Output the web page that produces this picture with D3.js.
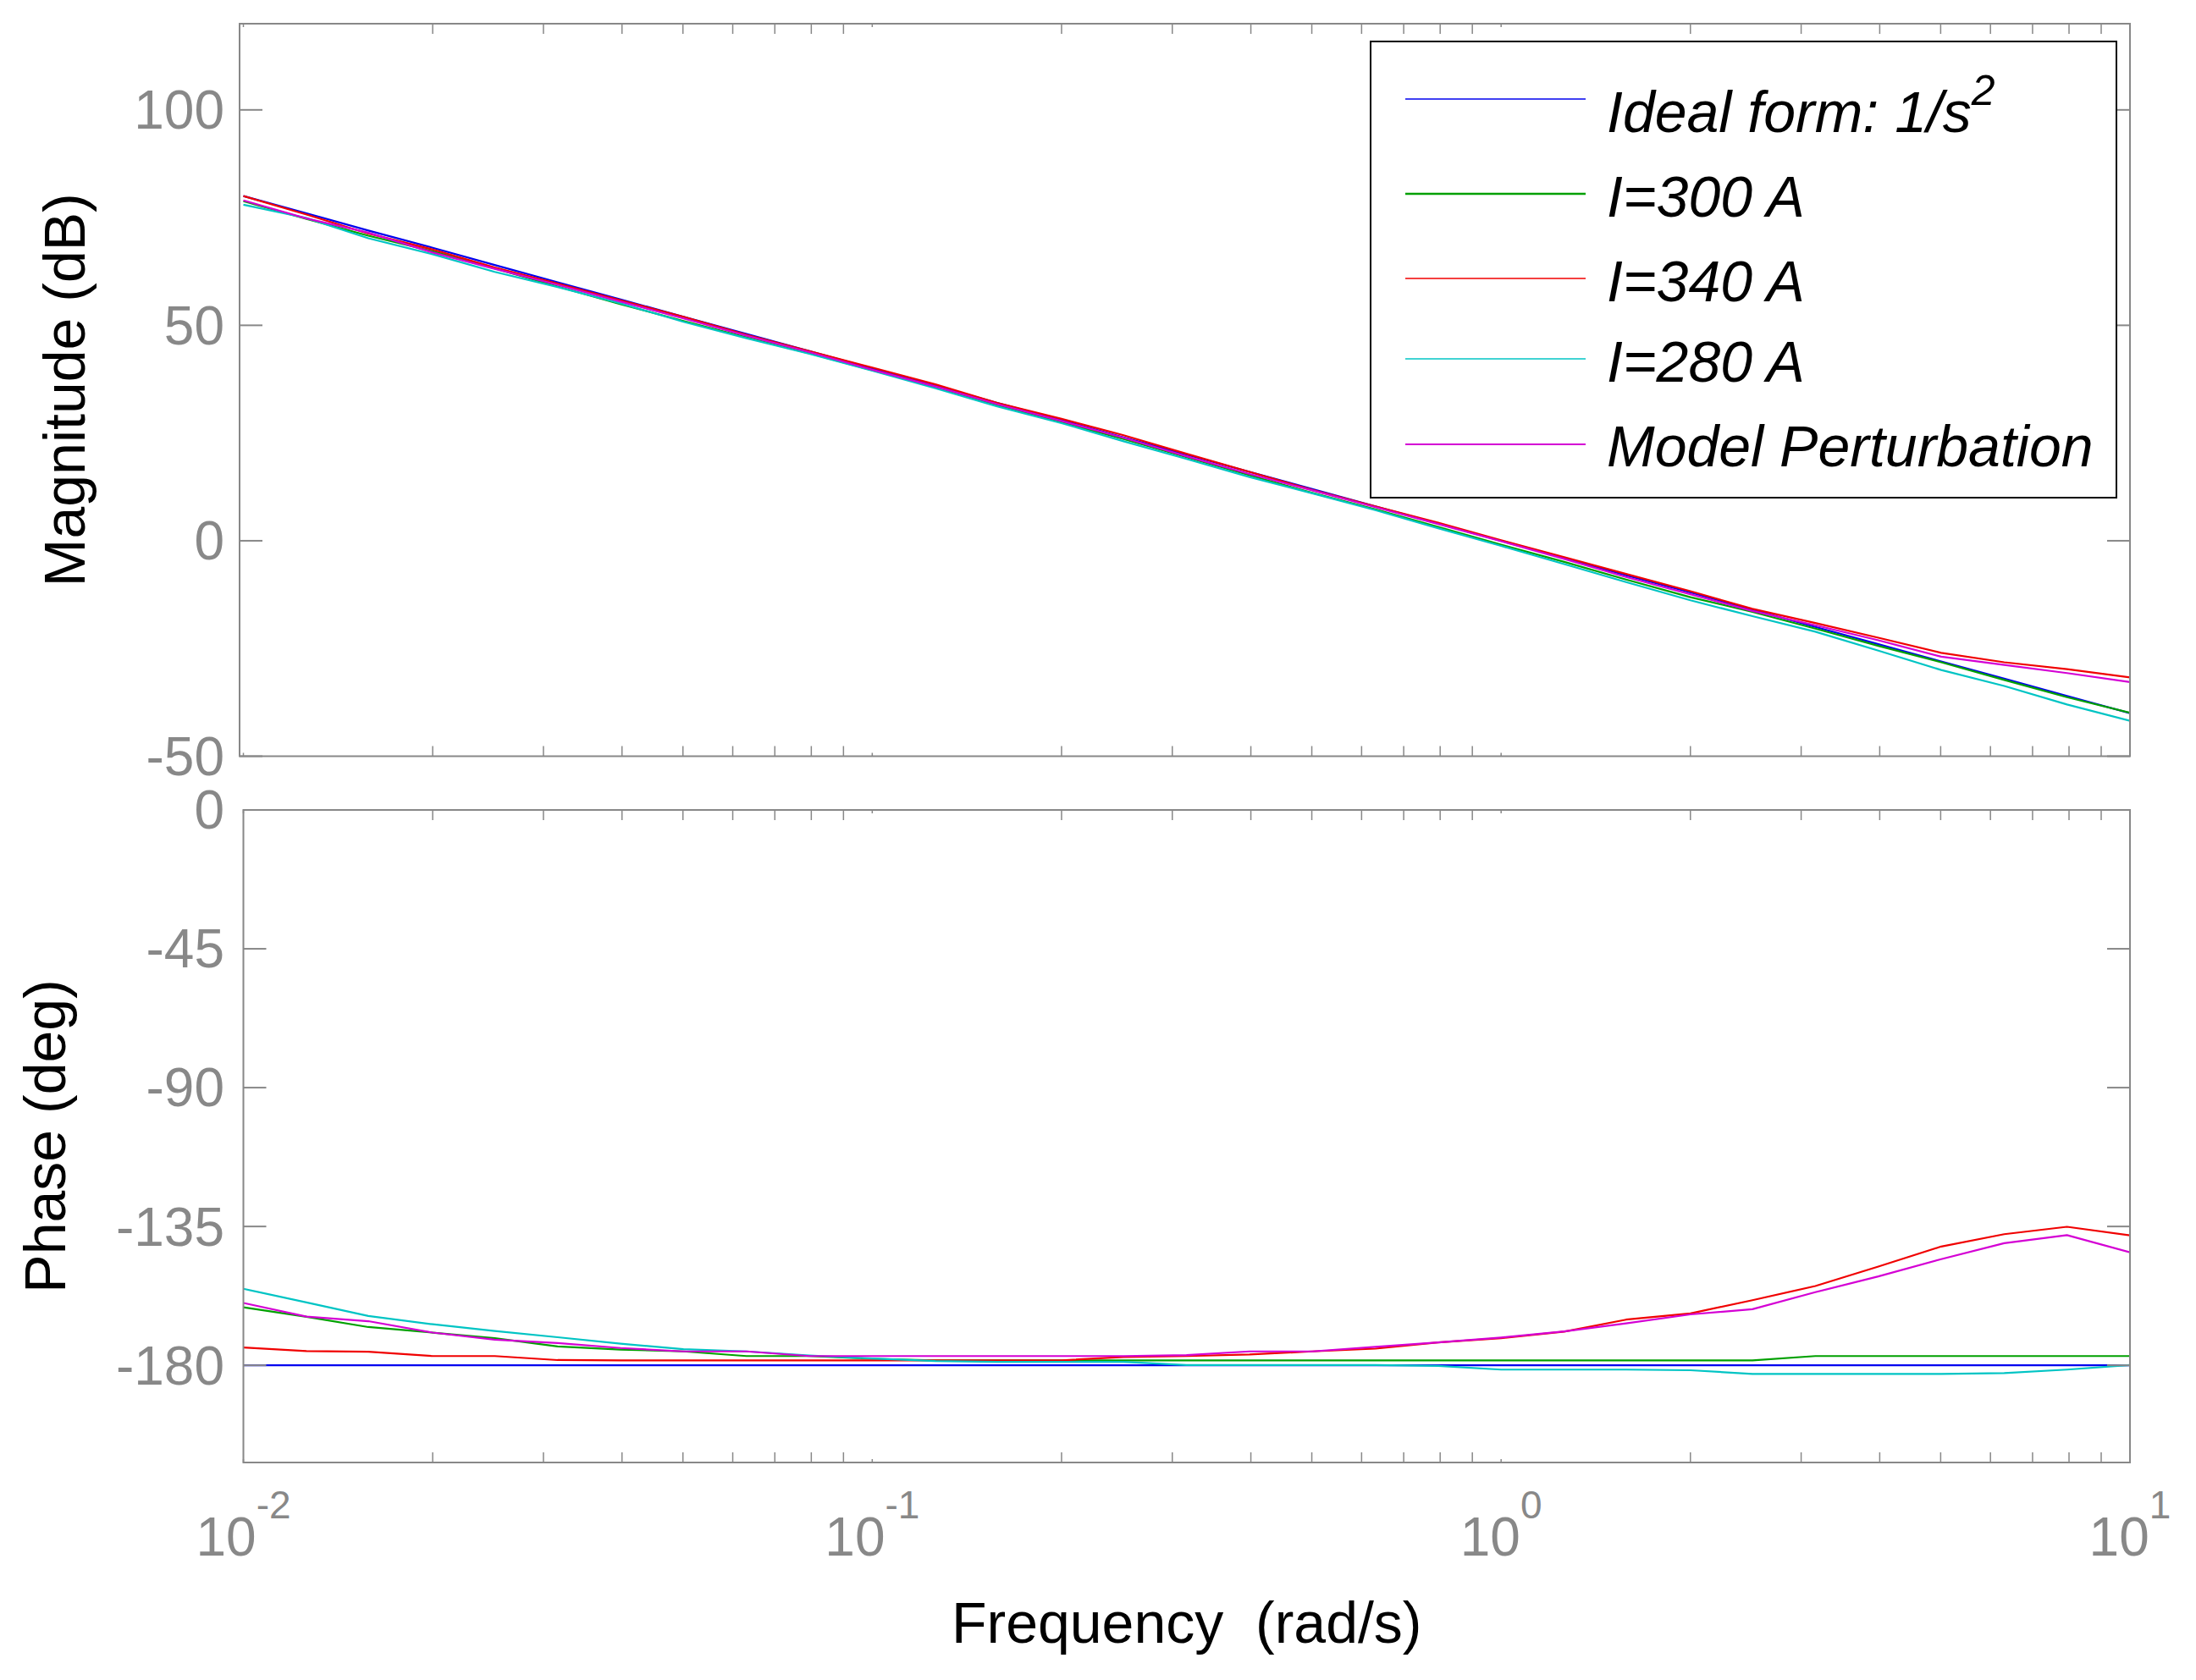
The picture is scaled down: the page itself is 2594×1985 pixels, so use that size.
<!DOCTYPE html>
<html>
<head>
<meta charset="utf-8">
<script src="https://cdn.jsdelivr.net/npm/d3@7/dist/d3.min.js"></script>
<style>
  html, body { margin: 0; padding: 0; background: #fff; }
  svg text { font-family: "Liberation Sans", Arial, Helvetica, sans-serif; }
</style>
</head>
<body>
<svg id="chart" width="2594" height="1985"></svg>
<script>
// ---------------- DATA ----------------
const freq = [0.01, 0.0126, 0.0158, 0.02, 0.0251, 0.0316, 0.0398, 0.0501, 0.0631, 0.0794,
              0.1, 0.126, 0.158, 0.2, 0.251, 0.316, 0.398, 0.501, 0.631, 0.794,
              1.0, 1.26, 1.58, 2.0, 2.51, 3.16, 3.98, 5.01, 6.31, 7.94, 10];

const seriesNames = ["Ideal form: 1/s", "I=300 A", "I=340 A", "I=280 A", "Model Perturbation"];
const seriesColors = ["#0000ee", "#00a000", "#f00000", "#00c4c4", "#d400d4"];

const magIdeal = [80, 76, 72, 68, 64, 60, 56, 52, 48, 44, 40, 36, 32, 28, 24, 20, 16, 12, 8, 4,
                  0, -4, -8, -12, -16, -20, -24, -28, -32, -36, -40];
const mag300 = [78.8, 74.7, 70.8, 67.2, 63.2, 59.0, 54.9, 51.0, 47.2, 43.5, 39.6, 35.7, 31.4, 27.5, 23.6, 19.4, 15.2, 11.1, 7.3, 3.2,
                -0.9, -4.9, -9.0, -13.1, -16.5, -20.4, -24.4, -28.2, -32.3, -36.3, -39.9];
const mag340 = [80.0, 75.7, 71.3, 67.6, 63.4, 59.7, 55.8, 52.0, 47.8, 44.0, 40.2, 36.3, 32.0, 28.3, 24.5, 20.2, 16.0, 11.8, 8.0, 4.2,
                0.1, -3.8, -7.7, -11.7, -15.8, -19.1, -22.5, -26.0, -28.2, -29.8, -31.7];
const mag280 = [78.0, 74.9, 70.2, 66.5, 62.4, 58.9, 55.1, 50.8, 47.0, 43.4, 39.5, 35.4, 31.2, 27.3, 23.1, 19.0, 14.8, 11.0, 7.1, 2.9,
                -1.2, -5.4, -9.6, -13.8, -17.5, -21.1, -25.5, -30.0, -33.7, -38.0, -41.8];
const magModel = [79.0, 74.8, 71.5, 66.9, 63.1, 59.4, 55.5, 51.6, 47.6, 43.8, 39.7, 35.8, 31.7, 27.8, 23.9, 19.6, 15.5, 11.7, 7.8, 3.9,
                  -0.1, -4.2, -8.4, -12.4, -16.3, -19.6, -23.1, -26.9, -28.8, -30.7, -32.8];

const phIdeal = [-180, -180, -180, -180, -180, -180, -180, -180, -180, -180, -180, -180, -180, -180, -180, -180, -180, -180, -180, -180,
                 -180, -180, -180, -180, -180, -180, -180, -180, -180, -180, -180];
const ph300 = [-161.2, -164.3, -167.6, -169.4, -171.2, -173.9, -174.9, -175.5, -177.0, -177.0, -177.9, -178.4, -178.4, -178.4, -178.4, -178.4, -178.4, -178.4, -178.4, -178.4,
               -178.4, -178.4, -178.4, -178.4, -178.4, -177.0, -177.0, -177.0, -177.0, -177.0, -177.0];
const ph340 = [-174.2, -175.4, -175.6, -177.0, -177.0, -178.3, -178.4, -178.4, -178.4, -178.4, -178.4, -178.4, -178.4, -178.4, -177.3, -177.0, -176.5, -175.5, -174.6, -172.6,
               -171.2, -169.1, -165.2, -163.2, -158.9, -154.3, -148.0, -141.5, -137.5, -135.1, -137.9];
const ph280 = [-155.2, -159.6, -164.0, -166.7, -168.9, -170.9, -173.0, -174.8, -175.5, -176.8, -177.8, -178.6, -178.9, -178.9, -178.9, -179.9, -179.9, -179.9, -179.9, -180.2,
               -181.4, -181.4, -181.4, -181.6, -182.8, -182.8, -182.8, -182.8, -182.5, -181.4, -179.9];
const phModel = [-159.8, -164.2, -165.7, -169.4, -171.7, -172.8, -174.4, -175.5, -175.5, -177.0, -177.0, -177.0, -177.0, -177.0, -177.0, -176.7, -175.5, -175.5, -174.0, -172.6,
                 -171.0, -169.0, -166.4, -163.5, -161.8, -156.3, -151.2, -145.6, -140.4, -137.8, -143.4];

const magTicks = [-50, 0, 50, 100];
const phaseTicks = [0, -45, -90, -135, -180];
const xExponents = [-2, -1, 0, 1];

const magSeries = [magIdeal, mag300, mag340, mag280, magModel];
const phaseSeries = [phIdeal, ph300, ph340, ph280, phModel];

// ---------------- LAYOUT ----------------
const svg = d3.select("#chart");
svg.append("rect").attr("width", 2594).attr("height", 1985).attr("fill", "#fff");

const axisGrey = "#888888";
const fontTick = 64;

const x = d3.scaleLog().domain([0.01, 10]).range([287.5, 2516]);
const yMag = d3.scaleLinear().domain([-50, 120]).range([893.5, 28]);
const yPh = d3.scaleLinear().domain([-211.5, 0]).range([1728, 957]);

const panels = [
  { y: yMag, left: 283, series: magSeries, ticks: magTicks, label: "Magnitude (dB)", labelX: 100, id: "m" },
  { y: yPh, left: 287.5, series: phaseSeries, ticks: phaseTicks, label: "Phase (deg)", labelX: 77, id: "p" }
];

const minorTicks = [];
[-2, -1, 0].forEach(e => { for (let k = 2; k <= 9; k++) minorTicks.push(k * Math.pow(10, e)); });
const majorTicks = xExponents.map(e => Math.pow(10, e));

panels.forEach(p => {
  const top = p.y.range()[1], bottom = p.y.range()[0];
  const right = x.range()[1];
  const g = svg.append("g");

  // clip
  svg.append("clipPath").attr("id", "clip-" + p.id)
    .append("rect").attr("x", p.left).attr("y", top).attr("width", right - p.left).attr("height", bottom - top);

  // data lines
  const line = d3.line().x((d, i) => x(freq[i])).y(d => p.y(d));
  const lg = g.append("g").attr("clip-path", `url(#clip-${p.id})`);
  p.series.forEach((vals, si) => {
    lg.append("path").datum(vals).attr("d", line)
      .attr("fill", "none").attr("stroke", seriesColors[si])
      .attr("stroke-width", 2.2).attr("stroke-linejoin", "round");
  });

  // box
  g.append("rect").attr("x", p.left).attr("y", top).attr("width", right - p.left).attr("height", bottom - top)
    .attr("fill", "none").attr("stroke", axisGrey).attr("stroke-width", 2);

  // y ticks (both sides, inward)
  p.ticks.forEach(t => {
    const yy = p.y(t);
    g.append("line").attr("x1", p.left).attr("x2", p.left + 27).attr("y1", yy).attr("y2", yy)
      .attr("stroke", axisGrey).attr("stroke-width", 2);
    g.append("line").attr("x1", right - 27).attr("x2", right).attr("y1", yy).attr("y2", yy)
      .attr("stroke", axisGrey).attr("stroke-width", 2);
    g.append("text").attr("x", 265).attr("y", yy).attr("dy", "0.35em")
      .attr("text-anchor", "end").attr("font-size", fontTick).attr("fill", axisGrey)
      .text(t);
  });

  // x ticks top & bottom
  minorTicks.forEach(t => {
    const xx = x(t);
    g.append("line").attr("x1", xx).attr("x2", xx).attr("y1", bottom).attr("y2", bottom - 12)
      .attr("stroke", axisGrey).attr("stroke-width", 1.5);
    g.append("line").attr("x1", xx).attr("x2", xx).attr("y1", top).attr("y2", top + 12)
      .attr("stroke", axisGrey).attr("stroke-width", 1.5);
  });
  majorTicks.forEach(t => {
    const xx = x(t);
    g.append("line").attr("x1", xx).attr("x2", xx).attr("y1", bottom).attr("y2", bottom - 4)
      .attr("stroke", axisGrey).attr("stroke-width", 1.5);
    g.append("line").attr("x1", xx).attr("x2", xx).attr("y1", top).attr("y2", top + 4)
      .attr("stroke", axisGrey).attr("stroke-width", 1.5);
  });

  // y label
  const cy = (top + bottom) / 2;
  svg.append("text").attr("transform", `translate(${p.labelX},${cy}) rotate(-90)`)
    .attr("text-anchor", "middle").attr("font-size", 68).attr("fill", "#000")
    .text(p.label);
});

// x tick labels (bottom panel)
xExponents.forEach(e => {
  const t = svg.append("text").attr("x", x(Math.pow(10, e))).attr("y", 1838)
    .attr("text-anchor", "middle").attr("font-size", fontTick).attr("fill", axisGrey);
  t.append("tspan").text("10");
  t.append("tspan").attr("dy", -44).attr("font-size", 46).text(String(e));
});

// x label
svg.append("text").attr("x", (x.range()[0] + x.range()[1]) / 2).attr("y", 1941)
  .attr("text-anchor", "middle").attr("font-size", 68).attr("fill", "#000")
  .attr("xml:space", "preserve").style("white-space", "pre")
  .text("Frequency  (rad/s)");

// ---------------- LEGEND ----------------
const legend = svg.append("g");
legend.append("rect").attr("x", 1619).attr("y", 49).attr("width", 881).attr("height", 539)
  .attr("fill", "#fff").attr("stroke", "#000").attr("stroke-width", 2);
const legLineY = [117, 229, 329, 424, 525];
const legTextY = [156, 256, 356, 451, 551];
const legWidths = [1.5, 2.5, 1.5, 1.5, 2];
seriesNames.forEach((name, i) => {
  legend.append("line").attr("x1", 1660).attr("x2", 1873).attr("y1", legLineY[i]).attr("y2", legLineY[i])
    .attr("stroke", seriesColors[i]).attr("stroke-width", legWidths[i]);
  const t = legend.append("text").attr("x", 1898).attr("y", legTextY[i])
    .attr("font-size", 68).attr("font-style", "italic").attr("fill", "#000");
  t.append("tspan").text(name);
  if (i === 0) {
    t.append("tspan").attr("dy", -32).attr("font-size", 50).text("2");
  }
});
</script>
</body>
</html>
